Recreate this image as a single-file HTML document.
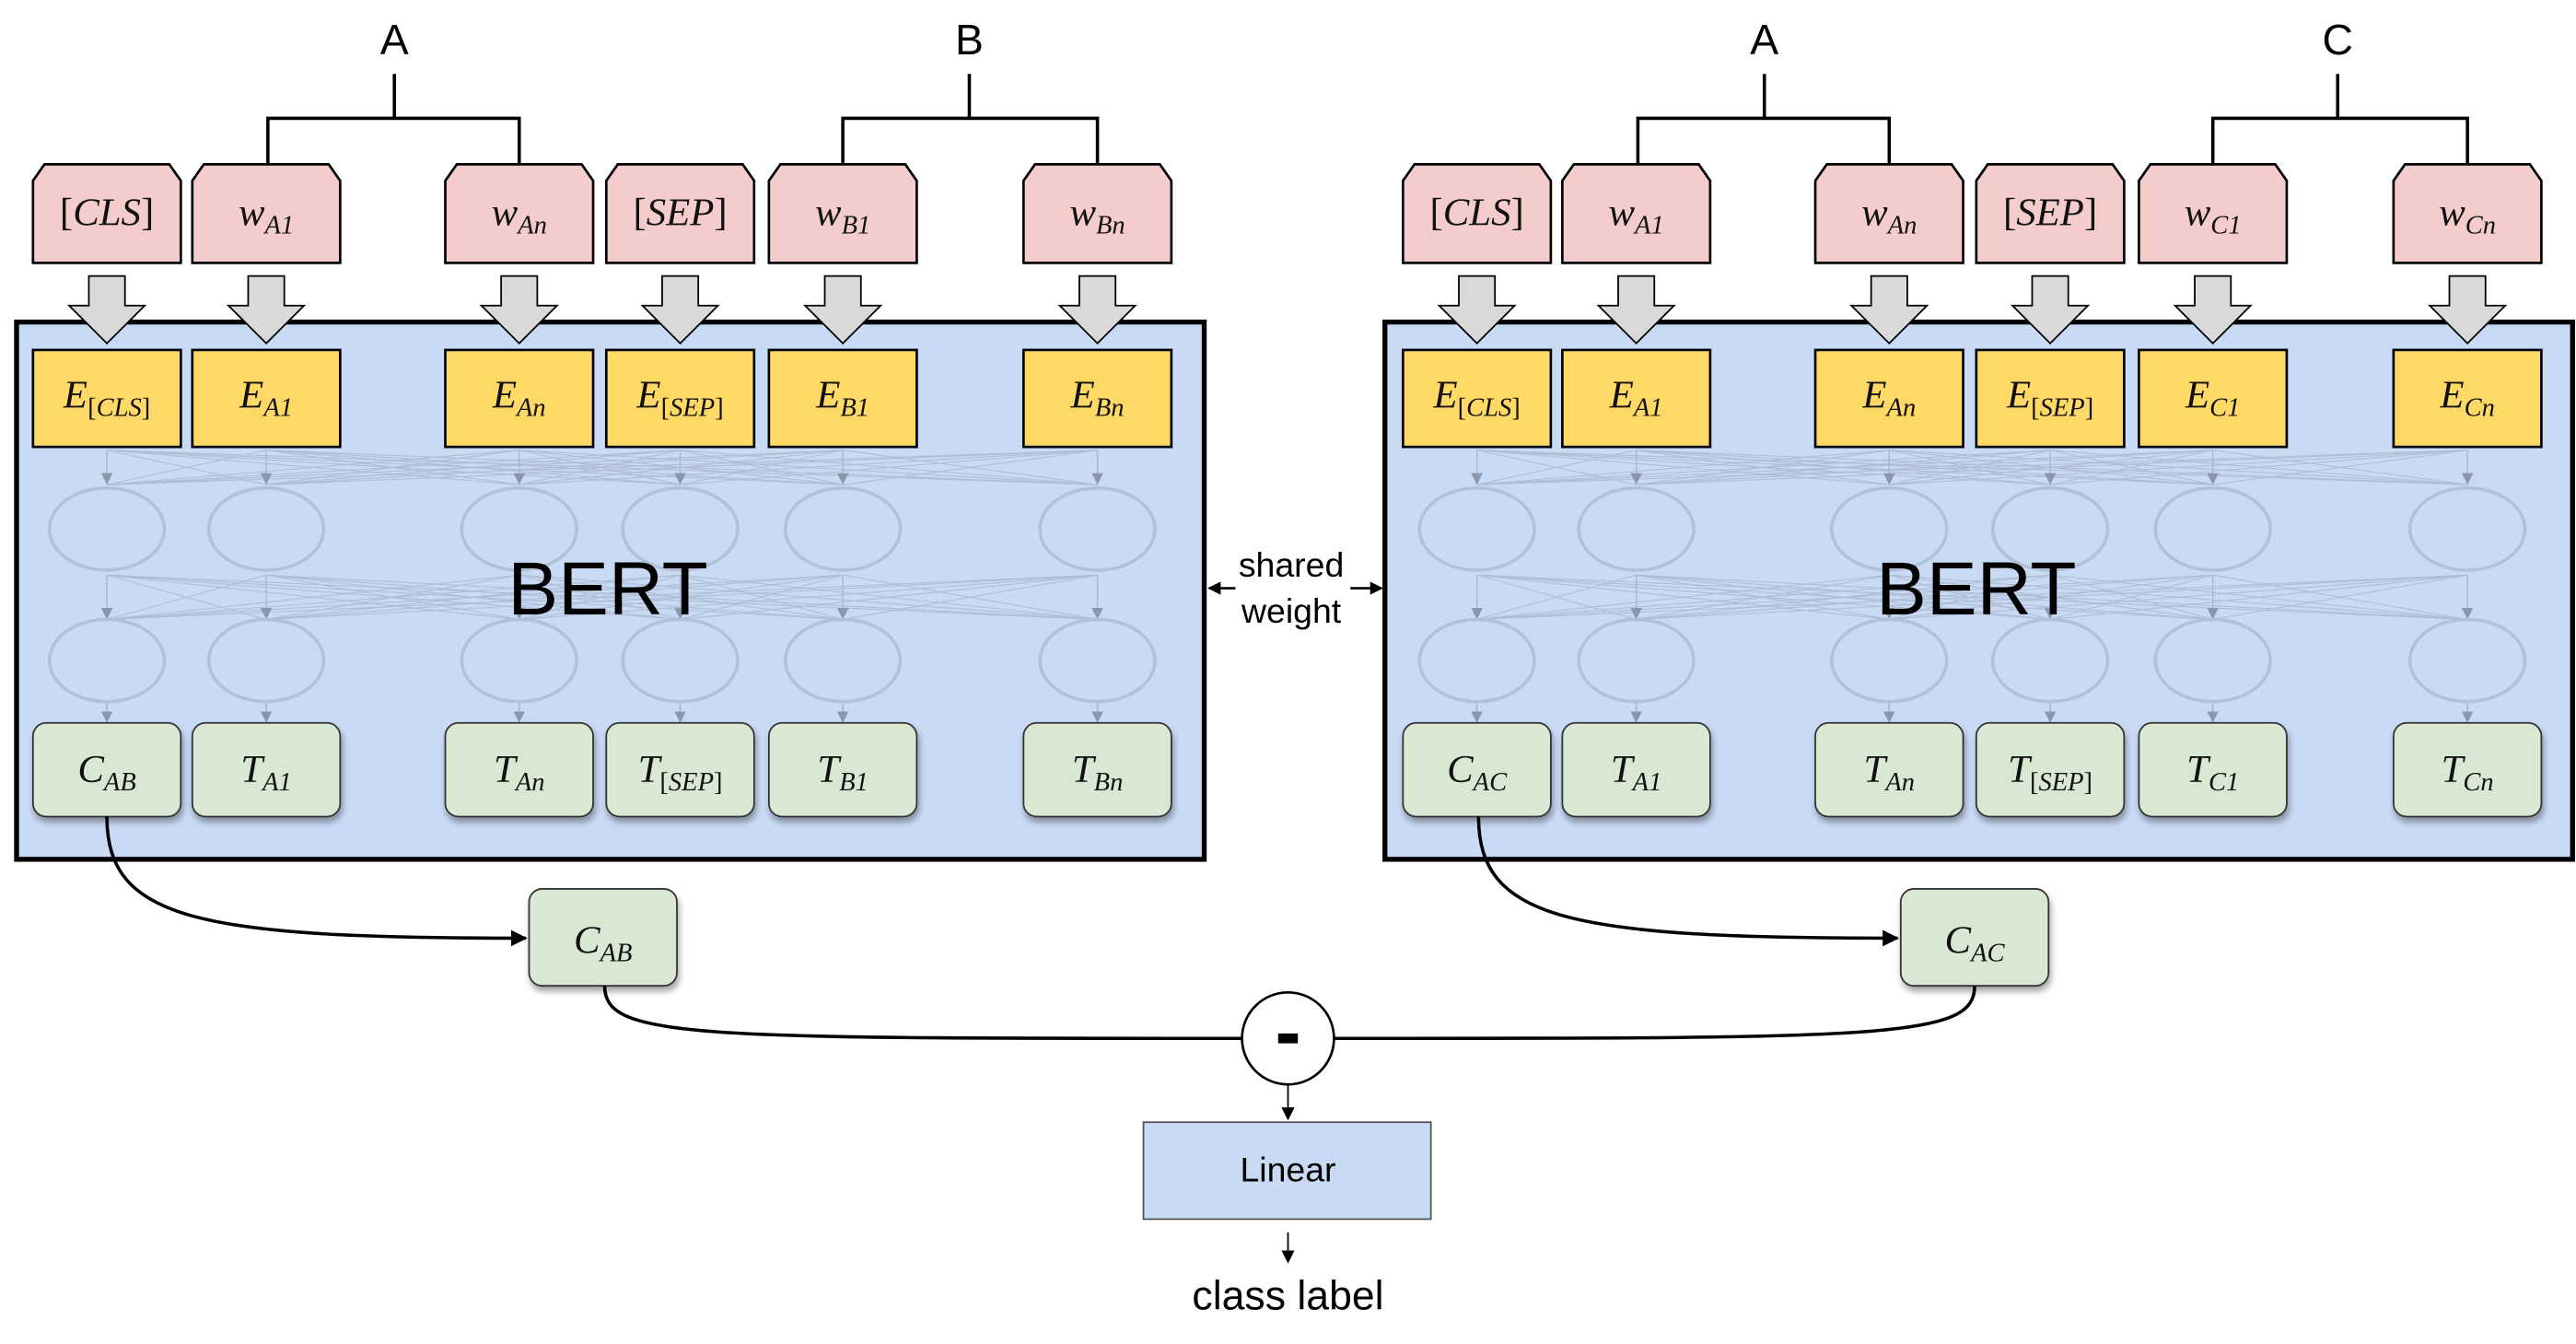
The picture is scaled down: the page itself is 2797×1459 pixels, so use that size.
<!DOCTYPE html>
<html><head><meta charset="utf-8"><style>
html,body{margin:0;padding:0;background:#fff;width:2797px;height:1459px;overflow:hidden}
svg{display:block}
.m{font-family:"Liberation Serif",serif;font-style:italic;font-size:24px;fill:#111}
.s{font-size:16px}
.u{font-style:normal}
.h{font-family:"Liberation Sans",sans-serif;fill:#000}
</style></head><body>
<svg id="g" width="2797" height="1459" viewBox="0 0 1568 818" xmlns="http://www.w3.org/2000/svg">
<defs>
<marker id="ah" markerWidth="10" markerHeight="10" refX="9" refY="5" orient="auto" markerUnits="userSpaceOnUse"><path d="M0,0 L10,5 L0,10 z" fill="#000"/></marker>
<marker id="ah2" markerWidth="8" markerHeight="8" refX="7" refY="4" orient="auto" markerUnits="userSpaceOnUse"><path d="M0,0 L8,4 L0,8 z" fill="#000"/></marker>
<marker id="fa" markerWidth="7" markerHeight="7" refX="6" refY="3.5" orient="auto" markerUnits="userSpaceOnUse"><path d="M0,0 L7,3.5 L0,7 z" fill="#8a96aa"/></marker>
<filter id="sh" x="-20%" y="-20%" width="140%" height="150%"><feDropShadow dx="1" dy="3" stdDeviation="2" flood-color="#000" flood-opacity="0.35"/></filter>
</defs>
<g id="root"></g>
<g class="h" font-size="26" text-anchor="middle">
<text x="240" y="33">A</text><text x="590" y="33">B</text>
<text x="1074" y="33">A</text><text x="1423" y="33">C</text>
</g>
<g stroke="#000" stroke-width="2" fill="none">
<path d="M240,45V72M163,100V72H316V100"/>
<path d="M590,45V72M513,100V72H668V100"/>
<path d="M1074,45V72M997,100V72H1150V100"/>
<path d="M1423,45V72M1347,100V72H1502V100"/>
</g>
<text class="h" x="786" y="351" font-size="21" text-anchor="middle">shared</text>
<text class="h" x="786" y="379" font-size="21" text-anchor="middle">weight</text>
<line x1="752" y1="358" x2="736" y2="358" stroke="#000" stroke-width="1.5" marker-end="url(#ah2)"/>
<line x1="822" y1="358" x2="841" y2="358" stroke="#000" stroke-width="1.5" marker-end="url(#ah2)"/>
<path d="M65,497 C65,560 120,571 320,571" stroke="#000" stroke-width="2" fill="none" marker-end="url(#ah)"/>
<path d="M900,497 C900,560 955,571 1155,571" stroke="#000" stroke-width="2" fill="none" marker-end="url(#ah)"/>
<rect x="322" y="541" width="90" height="59" rx="8" fill="#d9e8d3" stroke="#333" stroke-width="1" filter="url(#sh)"/>
<text class="m" x="367" y="580" text-anchor="middle">C<tspan class="s" dy="5">AB</tspan></text>
<rect x="1157" y="541" width="90" height="59" rx="8" fill="#d9e8d3" stroke="#333" stroke-width="1" filter="url(#sh)"/>
<text class="m" x="1202" y="580" text-anchor="middle">C<tspan class="s" dy="5">AC</tspan></text>
<path d="M368,600 C368,632 420,632 756,632" stroke="#000" stroke-width="2" fill="none"/>
<path d="M1202,600 C1202,632 1150,632 812,632" stroke="#000" stroke-width="2" fill="none"/>
<ellipse cx="784" cy="632" rx="28" ry="28" fill="#fff" stroke="#000" stroke-width="1.5"/>
<rect x="778" y="629" width="12" height="6" fill="#000"/>
<line x1="784" y1="660" x2="784" y2="681" stroke="#000" stroke-width="1" marker-end="url(#ah2)"/>
<rect x="696" y="683" width="175" height="59" fill="#c9daf5" stroke="#555" stroke-width="1"/>
<text class="h" x="784" y="719" font-size="21" text-anchor="middle">Linear</text>
<line x1="784" y1="750" x2="784" y2="768" stroke="#000" stroke-width="1" marker-end="url(#ah2)"/>
<text class="h" x="784" y="797" font-size="25" text-anchor="middle">class label</text>
</svg>
<script>
(function(){
var NS="http://www.w3.org/2000/svg",root=document.getElementById("root");
function el(t,a,p){var e=document.createElementNS(NS,t);for(var k in a)e.setAttribute(k,a[k]);(p||root).appendChild(e);return e;}
function br(parent,inner,cls,dy){
 var a=el("tspan",{"class":"u"+(cls?" "+cls:"")},parent);if(dy)a.setAttribute("dy",dy);a.textContent="[";
 var b=el("tspan",cls?{"class":cls}:{},parent);b.textContent=inner;
 var c=el("tspan",{"class":"u"+(cls?" "+cls:"")},parent);c.textContent="]";
}
function mt(x,y,main,sub,p){var t=el("text",{"class":"m",x:x,y:y,"text-anchor":"middle"},p);
 if(main.charAt(0)=="["){br(t,main.slice(1,-1),"",null);return t;}
 t.appendChild(document.createTextNode(main));
 if(sub){ if(sub.charAt(0)=="["){br(t,sub.slice(1,-1),"s",5);} else {var s=el("tspan",{"class":"s",dy:5},t);s.textContent=sub;} }
 return t;}
var panels=[
 {bx:10,xs:[20,117,271,369,468,623],w:["[CLS]","","w","[SEP]","w","w"],ws:["","A1","An","","B1","Bn"],E:["[CLS]","A1","An","[SEP]","B1","Bn"],T:[["C","AB"],["T","A1"],["T","An"],["T","[SEP]"],["T","B1"],["T","Bn"]]},
 {bx:843,xs:[854,951,1105,1203,1302,1457],w:["[CLS]","","w","[SEP]","w","w"],ws:["","A1","An","","C1","Cn"],E:["[CLS]","A1","An","[SEP]","C1","Cn"],T:[["C","AC"],["T","A1"],["T","An"],["T","[SEP]"],["T","C1"],["T","Cn"]]}
];
panels.forEach(function(P){
 el("rect",{x:P.bx,y:196,width:723,height:327,fill:"#c9daf5",stroke:"#000","stroke-width":3});
 var W=90,cx=P.xs.map(function(x){return x+45;});
 var g=el("g",{stroke:"#a9b6cc","stroke-width":0.6,fill:"none",opacity:0.8});
 [[274,295],[350,377]].forEach(function(r){
  cx.forEach(function(a){cx.forEach(function(b){ if(a!==b) el("line",{x1:a,y1:r[0],x2:b,y2:r[1]},g);});});
  cx.forEach(function(a){el("line",{x1:a,y1:r[0],x2:a,y2:r[1]-1,stroke:"#a9b6cc","stroke-width":0.8,"marker-end":"url(#fa)"});});
 });
 cx.forEach(function(a){
  el("ellipse",{cx:a,cy:322,rx:35,ry:25,fill:"none",stroke:"#b2c0d8","stroke-width":2});
  el("ellipse",{cx:a,cy:402,rx:35,ry:25,fill:"none",stroke:"#b2c0d8","stroke-width":2});
  el("line",{x1:a,y1:428,x2:a,y2:439,stroke:"#a9b6cc","stroke-width":1,"marker-end":"url(#fa)"});
 });
 var bt=el("text",{"class":"h",x:P.bx+360,y:374,"font-size":46,"text-anchor":"middle"});bt.textContent="BERT";
 P.xs.forEach(function(x,i){
  var c=x+45;
  el("path",{d:"M"+x+",160V110L"+(x+7)+",100H"+(x+83)+"L"+(x+90)+",110V160Z",fill:"#f4cccc",stroke:"#000","stroke-width":1.5});
  if(P.ws[i]) mt(c,137,"w",P.ws[i]); else mt(c,137,P.w[i],"");
  el("path",{d:"M"+(c-11)+",168H"+(c+11)+"V186H"+(c+23)+"L"+c+",209L"+(c-23)+",186H"+(c-11)+"Z",fill:"#d9d9d9",stroke:"#000","stroke-width":1});
  el("rect",{x:x,y:213,width:W,height:59,fill:"#ffd966",stroke:"#000","stroke-width":1.5});
  mt(c,248,"E",P.E[i]);
  el("rect",{x:x,y:440,width:W,height:57,rx:8,fill:"#d9e8d3",stroke:"#333","stroke-width":1,filter:"url(#sh)"});
  mt(c,476,P.T[i][0],P.T[i][1]);
 });
});
})();
</script>
</body></html>
